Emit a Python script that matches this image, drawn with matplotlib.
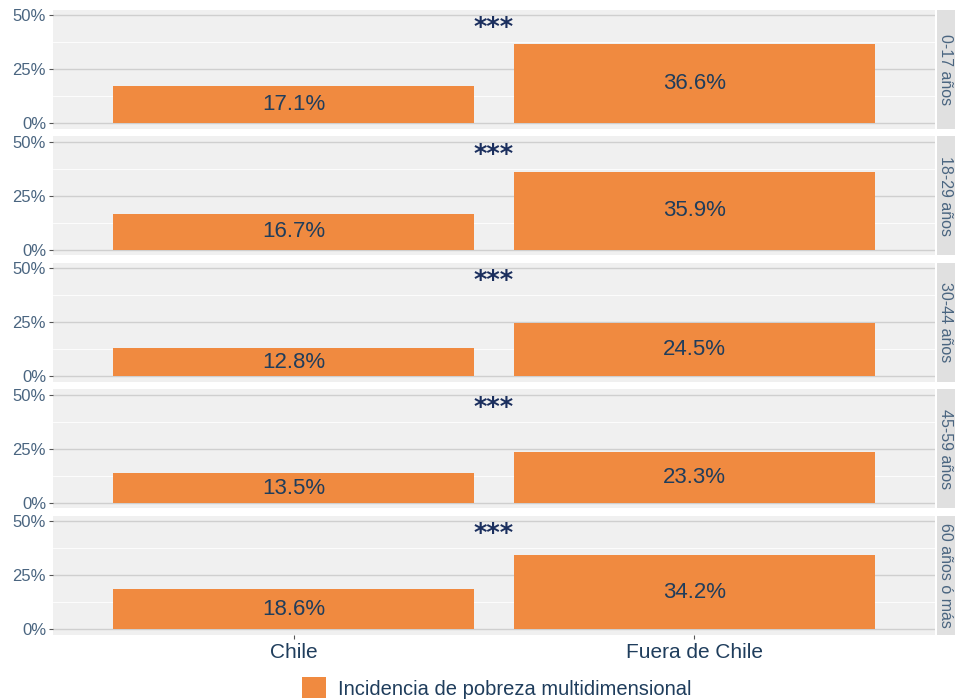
import numpy as np
import matplotlib.pyplot as plt
from matplotlib.patches import Patch

plt.rcParams["font.family"] = ["Liberation Sans", "DejaVu Sans"]

# data
grupos = ["0-17 años", "18-29 años", "30-44 años", "45-59 años", "60 años ó más"]
origen = ["Chile", "Fuera de Chile"]
chile = [17.1, 16.7, 12.8, 13.5, 18.6]
fuera = [36.6, 35.9, 24.5, 23.3, 34.2]
signif = ["***", "***", "***", "***", "***"]
yticks = [0, 25, 50]

naranja = "#f08a40"
texto = "#1f3d5c"
eje = "#4a6580"

W, H = 955, 699
fig = plt.figure(figsize=(W / 100, H / 100), dpi=100)

left, right = 53, 935
top0, ph, step = 9.6, 119, 126.5

for i, g in enumerate(grupos):
    top = top0 + i * step
    ax = fig.add_axes([left / W, 1 - (top + ph) / H, (right - left) / W, ph / H])
    ax.set_facecolor("#f0f0f0")
    vals = np.array([chile[i], fuera[i]]) / 100
    x = np.arange(1, 3)
    ax.set_xlim(0.4, 2.6)
    ax.set_ylim(-0.025, 0.525)
    for y in [0.125, 0.375]:
        ax.axhline(y, color="white", lw=0.6, zorder=0)
    for y in yticks:
        ax.axhline(y / 100, color="#cfcfcf", lw=1.0, zorder=0)
    ax.bar(x, vals, width=0.9, color=naranja, zorder=2)
    for xi, v in zip(x, vals):
        ax.text(xi, v / 2, f"{v*100:.1f}%", ha="center", va="center",
                fontsize=16, color=texto, zorder=3)
    ax.text(1.5, 0.435, signif[i], ha="center", va="center", fontsize=18.5,
            family="DejaVu Sans", fontweight="bold", color="#1b2f5e", zorder=3)
    ax.set_yticks([y / 100 for y in yticks])
    ax.set_yticklabels([f"{y}%" for y in yticks], fontsize=12, color=eje)
    ax.tick_params(axis="y", length=3, color="#555555", pad=2)
    for s in ax.spines.values():
        s.set_visible(False)
    if i == len(grupos) - 1:
        ax.set_xticks(x)
        ax.set_xticklabels(origen, fontsize=15, color=texto)
        ax.tick_params(axis="x", length=3, color="#555555", pad=3)
    else:
        ax.set_xticks([])

    # strip
    sx = fig.add_axes([(right + 2) / W, 1 - (top + ph) / H, (W - right - 2) / W, ph / H])
    sx.set_facecolor("#e0e0e0")
    sx.set_xticks([])
    sx.set_yticks([])
    for s in sx.spines.values():
        s.set_visible(False)
    sx.text(0.45, 0.5, g, rotation=-90, ha="center", va="center", fontsize=11.5,
            color=eje, transform=sx.transAxes)

fig.legend(handles=[Patch(facecolor=naranja, edgecolor="none")],
           labels=["Incidencia de pobreza multidimensional"],
           loc="center", bbox_to_anchor=(497 / W, 1 - 688 / H), frameon=False,
           fontsize=14.5, handlelength=1.2, handleheight=1.2, handletextpad=0.6,
           labelcolor=texto)

fig.savefig("out.png", dpi=100)
